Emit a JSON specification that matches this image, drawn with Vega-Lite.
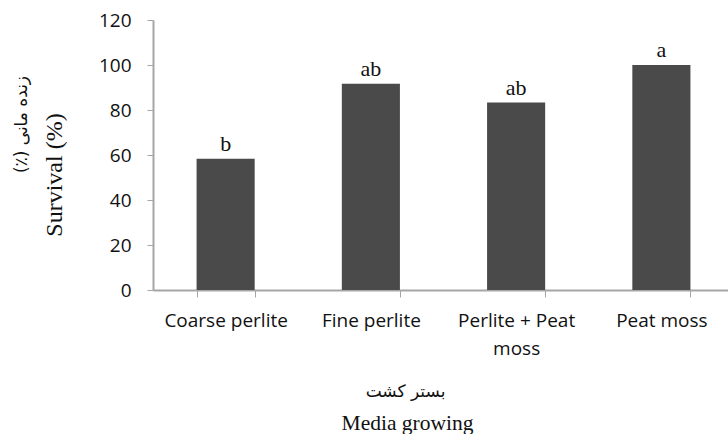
{
  "$schema": "https://vega.github.io/schema/vega-lite/v6.json",
  "width": 581,
  "height": 270,
  "autosize": "none",
  "padding": {"left": 153, "top": 20, "right": -6, "bottom": 144},
  "background": "white",
  "data": {"values": [
    {"media": "Coarse perlite", "survival": 58.3, "group": "b"},
    {"media": "Fine perlite", "survival": 91.7, "group": "ab"},
    {"media": "Perlite + Peat moss", "survival": 83.3, "group": "ab"},
    {"media": "Peat moss", "survival": 100, "group": "a"}
  ]},
  "layer": [
    {
      "mark": {"type": "bar", "color": "#4a4a4a"},
      "encoding": {
        "x": {"field": "media", "type": "nominal", "sort": null,
          "scale": {"paddingInner": 0.6, "paddingOuter": 0.3},
          "axis": {"orient": "bottom", "title": "Media growing", "titleFont": "Liberation Serif", "titleFontSize": 21.5, "titleFontWeight": "normal", "titleColor": "#111", "titleBaseline": "alphabetic", "titleX": 254, "titleY": 139, "titleAlign": "center",
            "labelAngle": 0, "labelFont": "Open Sans", "labelFontSize": 19, "labelColor": "#111", "labelPadding": 14, "labelLineHeight": 28, "labelLimit": 300,
            "labelExpr": "datum.label == 'Perlite + Peat moss' ? ['Perlite + Peat', 'moss'] : datum.label",
            "tickBand": "extent", "tickSize": 7, "tickColor": "#a6a6a6", "domainColor": "#a6a6a6", "domainWidth": 2, "grid": false}},
        "y": {"field": "survival", "type": "quantitative",
          "scale": {"domain": [0, 120]},
          "axis": {"orient": "left", "title": "Survival (%)", "titleFont": "Liberation Serif", "titleFontSize": 24, "titleFontWeight": "normal", "titleColor": "#111", "titleBaseline": "alphabetic", "titleAngle": -90, "titleX": -92, "titleY": 154.5, "titleAlign": "center",
            "values": [0, 20, 40, 60, 80, 100, 120], "labelFont": "Open Sans", "labelFontSize": 19, "labelColor": "#111", "labelPadding": 16,
            "tickSize": 6, "tickColor": "#a6a6a6", "domainColor": "#a6a6a6", "domainWidth": 2, "grid": false}}
      }
    },
    {
      "mark": {"type": "text", "font": "Liberation Serif", "fontSize": 22, "color": "#111", "baseline": "alphabetic", "dy": -8},
      "encoding": {
        "x": {"field": "media", "type": "nominal", "sort": null,
          "axis": {"orient": "bottom", "title": "بستر کشت", "titleFont": "DejaVu Sans", "titleFontSize": 17, "titleFontWeight": "normal", "titleColor": "#111", "titleBaseline": "alphabetic", "titleX": 252, "titleY": 106, "titleAlign": "center",
            "labels": false, "ticks": false, "domain": false, "grid": false}},
        "y": {"field": "survival", "type": "quantitative",
          "axis": {"orient": "left", "title": "(٪) زنده مانی", "titleFont": "DejaVu Sans", "titleFontSize": 17, "titleFontWeight": "normal", "titleColor": "#111", "titleBaseline": "alphabetic", "titleAngle": -90, "titleX": -127, "titleY": 104, "titleAlign": "center",
            "labels": false, "ticks": false, "domain": false, "grid": false}},
        "text": {"field": "group"}
      }
    }
  ],
  "resolve": {"axis": {"x": "independent", "y": "independent"}},
  "config": {"view": {"stroke": null}}
}
